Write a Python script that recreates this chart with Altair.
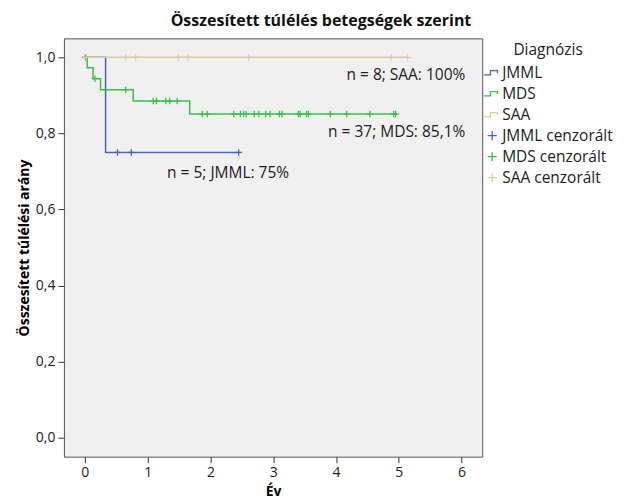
import altair as alt
import pandas as pd

# ---- data ----
labels = ["JMML", "MDS", "SAA", "JMML cenzorált", "MDS cenzorált", "SAA cenzorált"]
colors = ["#4563C4", "#3DBF4C", "#D4D09C", "#4563C4", "#3DBF4C", "#D4D09C"]

# step curves (time in years, survival proportion)
jmml_t = [0.0, 0.33, 2.45]
jmml_s = [1.0, 0.75, 0.75]
mds_t = [0.0, 0.037, 0.13, 0.25, 0.77, 1.67, 4.98]
mds_s = [1.0, 0.973, 0.944, 0.915, 0.885, 0.851, 0.851]
saa_t = [0.0, 5.14]
saa_s = [1.0, 1.0]

# censored observations
jmml_c = [0.01, 0.52, 0.74, 2.45]
mds_c = [0.16, 0.65, 1.09, 1.14, 1.29, 1.35, 1.47, 1.87, 1.95, 2.37, 2.48,
         2.53, 2.57, 2.70, 2.77, 2.88, 2.95, 3.10, 3.14, 3.40, 3.43, 3.53,
         3.56, 3.91, 4.17, 4.54, 4.92, 4.95]
saa_c = [0.02, 0.65, 0.81, 1.49, 1.64, 2.61, 4.88, 5.14]

ann_text = ["n = 8; SAA: 100%", "n = 37; MDS: 85,1%", "n = 5; JMML: 75%"]
ann_x = [6.06, 6.06, 1.31]
ann_y = [0.953, 0.804, 0.696]
ann_align = ["right", "right", "left"]

x_ticks = [0, 1, 2, 3, 4, 5, 6]
y_ticks = [0.0, 0.2, 0.4, 0.6, 0.8, 1.0]

# ---- build tables ----
rows = []
for name, ts, ss in [("JMML", jmml_t, jmml_s), ("MDS", mds_t, mds_s), ("SAA", saa_t, saa_s)]:
    for i, (t, s) in enumerate(zip(ts, ss)):
        rows.append({"label": name, "t": t, "s": s, "o": i})
lines_df = pd.DataFrame(rows)


def surv_at(ts, ss, t):
    v = ss[0]
    for tt, s in zip(ts, ss):
        if tt <= t:
            v = s
    return v


crow = []
for name, cs, ts, ss in [("JMML", jmml_c, jmml_t, jmml_s), ("MDS", mds_c, mds_t, mds_s),
                         ("SAA", saa_c, saa_t, saa_s)]:
    for t in cs:
        crow.append({"label": name + " cenzorált", "t": t, "s": surv_at(ts, ss, t)})
cens_df = pd.DataFrame(crow)

ann_df = pd.DataFrame({"text": ann_text, "x": ann_x, "y": ann_y, "align": ann_align})

FONT = "Open Sans"
step_path = "M-1.2,0.3H-0.25V-0.3H0.75V0.05"
cross_path = "M-0.65,0H0.65M0,-0.65V0.65"

xscale = alt.Scale(domain=[-0.334, 6.33], nice=False, zero=False)
yscale = alt.Scale(domain=[-0.05, 1.05], nice=False, zero=False)
cscale = alt.Scale(domain=labels, range=colors)
sscale = alt.Scale(domain=labels, range=[step_path] * 3 + [cross_path] * 3)

xaxis = alt.Axis(values=x_ticks, title="Év", format="d", grid=False, domain=False,
                 tickSize=6, tickColor="#333", labelFontSize=14, labelColor="#222",
                 titleFontSize=14, titleFontWeight="bold", titlePadding=5, labelPadding=3)
yaxis = alt.Axis(values=y_ticks, title="Összesített túlélési arány", grid=False, domain=False,
                 labelExpr="replace(format(datum.value, '.1f'), '.', ',')",
                 tickSize=6, tickColor="#333", labelFontSize=14, labelColor="#222",
                 titleFontSize=14, titleFontWeight="bold", titlePadding=4, labelPadding=3)

legend = alt.Legend(title="Diagnózis", titleFontWeight="normal", titleFontSize=15.5,
                    titleAnchor="middle", titleColor="#222", titlePadding=6,
                    labelFontSize=15.5, labelColor="#222", labelOffset=2,
                    symbolStrokeWidth=1.3, symbolSize=196, rowPadding=4,
                    symbolFillColor="transparent", orient="none", legendX=421, legendY=5)

lines = alt.Chart(lines_df).mark_line(interpolate="step-after", strokeWidth=1.5).encode(
    x=alt.X("t:Q", scale=xscale, axis=xaxis),
    y=alt.Y("s:Q", scale=yscale, axis=yaxis),
    color=alt.Color("label:N", scale=cscale, legend=legend),
    order="o:Q",
    detail="label:N",
)

cens = alt.Chart(cens_df).mark_point(filled=False, size=100, strokeWidth=1.3, opacity=1).encode(
    x=alt.X("t:Q", scale=xscale),
    y=alt.Y("s:Q", scale=yscale),
    color=alt.Color("label:N", scale=cscale, legend=legend),
    shape=alt.Shape("label:N", scale=sscale, legend=legend),
)

text_right = alt.Chart(ann_df).transform_filter("datum.align == 'right'").mark_text(
    fontSize=15.5, font=FONT, color="#222", baseline="middle", align="right").encode(
    x=alt.X("x:Q", scale=xscale),
    y=alt.Y("y:Q", scale=yscale),
    text="text:N",
)
text_left = alt.Chart(ann_df).transform_filter("datum.align == 'left'").mark_text(
    fontSize=15.5, font=FONT, color="#222", baseline="middle", align="left").encode(
    x=alt.X("x:Q", scale=xscale),
    y=alt.Y("y:Q", scale=yscale),
    text="text:N",
)

chart = alt.layer(lines, cens, text_right, text_left).properties(
    width=419, height=419,
    title=alt.TitleParams("Összesített túlélés betegségek szerint", fontSize=16, fontWeight="bold",
                          font=FONT, color="#111", anchor="middle", dx=48, offset=9),
    background="white",
    padding={"left": 9, "top": 5, "right": 5, "bottom": 5},
).configure(font=FONT).configure_view(
    fill="#F0F0F0", stroke="#555", strokeWidth=1,
)

chart.save("out.html", embed_options={"renderer": "svg", "actions": False})
